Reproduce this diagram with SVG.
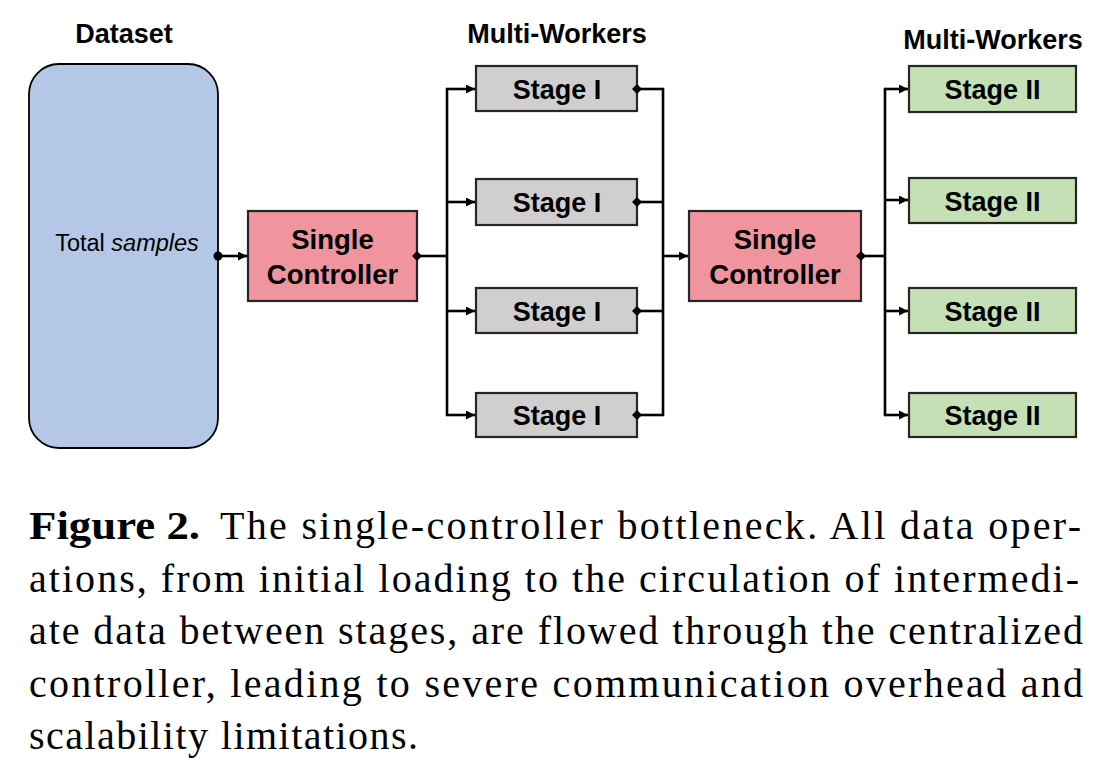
<svg xmlns="http://www.w3.org/2000/svg" width="1099" height="769" viewBox="0 0 1099 769">
<style>
.lbl{font-family:"Liberation Sans",Arial,sans-serif;font-weight:bold;font-size:27px;fill:#000;text-anchor:middle}
.box{stroke:#262626;stroke-width:2.2}
.s1{fill:#d0cece}
.s2{fill:#c5e0b4}
.ctl{fill:#f0949d}
.ln{stroke:#000;stroke-width:2.6;fill:none}
.cap{font-family:"Liberation Serif","Times New Roman",serif;font-size:40px;fill:#000}
</style>
<defs>
<marker id="arr" viewBox="0 0 10 10" refX="10" refY="5" markerWidth="11" markerHeight="9" markerUnits="userSpaceOnUse" orient="auto">
<path d="M0,0 L10,5 L0,10 z" fill="#000"/>
</marker>
<marker id="dia" viewBox="0 0 10 10" refX="5" refY="5" markerWidth="10" markerHeight="10" markerUnits="userSpaceOnUse" orient="auto">
<path d="M0,5 L5,0 L10,5 L5,10 z" fill="#000"/>
</marker>
</defs>
<rect width="1099" height="769" fill="#fff"/>

<g id="dataset">
<text class="lbl" x="124" y="43">Dataset</text>
<rect x="29" y="64" width="189" height="384" rx="30" ry="30" fill="#b4c7e7" stroke="#000" stroke-width="1.8"/>
<text x="127" y="251" style="font-family:'Liberation Sans',Arial,sans-serif;font-size:23.5px;text-anchor:middle">Total <tspan font-style="italic">samples</tspan></text>
</g>

<g id="controller1">
<rect class="box ctl" x="248" y="211" width="169" height="90"/>
<text class="lbl" x="332.5" y="248.5" style="font-size:27.5px">Single</text>
<text class="lbl" x="332.5" y="283.5" style="font-size:27.5px">Controller</text>
</g>

<text class="lbl" x="557" y="43">Multi-Workers</text>
<g id="stage1a"><rect class="box s1" x="476" y="66" width="161" height="45"/><text class="lbl" x="557" y="98.5">Stage I</text></g>
<g id="stage1b"><rect class="box s1" x="476" y="179" width="161" height="46"/><text class="lbl" x="557" y="212">Stage I</text></g>
<g id="stage1c"><rect class="box s1" x="476" y="288" width="161" height="45"/><text class="lbl" x="557" y="320.5">Stage I</text></g>
<g id="stage1d"><rect class="box s1" x="476" y="393" width="161" height="44"/><text class="lbl" x="557" y="425">Stage I</text></g>

<g id="controller2">
<rect class="box ctl" x="689" y="211" width="172" height="90"/>
<text class="lbl" x="775" y="248.5" style="font-size:27.5px">Single</text>
<text class="lbl" x="775" y="283.5" style="font-size:27.5px">Controller</text>
</g>

<text class="lbl" x="993" y="49">Multi-Workers</text>
<g id="stage2a"><rect class="box s2" x="909" y="66" width="167" height="46"/><text class="lbl" x="992.5" y="99">Stage II</text></g>
<g id="stage2b"><rect class="box s2" x="909" y="178" width="167" height="45"/><text class="lbl" x="992.5" y="210.5">Stage II</text></g>
<g id="stage2c"><rect class="box s2" x="909" y="288" width="167" height="45"/><text class="lbl" x="992.5" y="320.5">Stage II</text></g>
<g id="stage2d"><rect class="box s2" x="909" y="393" width="167" height="44"/><text class="lbl" x="992.5" y="425">Stage II</text></g>

<g id="connectors">
<circle cx="218" cy="256" r="4.5" fill="#000"/>
<line class="ln" x1="218" y1="256" x2="247" y2="256" marker-end="url(#arr)"/>
<line class="ln" x1="417" y1="256" x2="447" y2="256" marker-start="url(#dia)"/>
<line class="ln" x1="447" y1="88" x2="447" y2="416"/>
<line class="ln" x1="446" y1="89" x2="475" y2="89" marker-end="url(#arr)"/>
<line class="ln" x1="446" y1="202" x2="475" y2="202" marker-end="url(#arr)"/>
<line class="ln" x1="446" y1="311" x2="475" y2="311" marker-end="url(#arr)"/>
<line class="ln" x1="446" y1="415" x2="475" y2="415" marker-end="url(#arr)"/>
<line class="ln" x1="637" y1="89" x2="664" y2="89" marker-start="url(#dia)"/>
<line class="ln" x1="637" y1="202" x2="664" y2="202" marker-start="url(#dia)"/>
<line class="ln" x1="637" y1="311" x2="664" y2="311" marker-start="url(#dia)"/>
<line class="ln" x1="637" y1="415" x2="664" y2="415" marker-start="url(#dia)"/>
<line class="ln" x1="663" y1="88" x2="663" y2="416"/>
<line class="ln" x1="663" y1="256" x2="688" y2="256" marker-end="url(#arr)"/>
<line class="ln" x1="861" y1="256" x2="885" y2="256" marker-start="url(#dia)"/>
<line class="ln" x1="885" y1="88" x2="885" y2="416"/>
<line class="ln" x1="884" y1="89" x2="908" y2="89" marker-end="url(#arr)"/>
<line class="ln" x1="884" y1="200" x2="908" y2="200" marker-end="url(#arr)"/>
<line class="ln" x1="884" y1="311" x2="908" y2="311" marker-end="url(#arr)"/>
<line class="ln" x1="884" y1="415" x2="908" y2="415" marker-end="url(#arr)"/>
</g>

<g id="caption">
<text class="cap" x="29" y="539" font-weight="bold" textLength="171" lengthAdjust="spacingAndGlyphs">Figure 2.</text>
<text class="cap" x="220" y="539" textLength="861" lengthAdjust="spacing">The single-controller bottleneck. All data oper-</text>
<text class="cap" x="29" y="591.5" textLength="1050" lengthAdjust="spacing">ations, from initial loading to the circulation of intermedi-</text>
<text class="cap" x="29" y="644" textLength="1054" lengthAdjust="spacing">ate data between stages, are flowed through the centralized</text>
<text class="cap" x="29" y="696.5" textLength="1054" lengthAdjust="spacing">controller, leading to severe communication overhead and</text>
<text class="cap" x="29" y="749" textLength="389" lengthAdjust="spacing">scalability limitations.</text>
</g>
</svg>
